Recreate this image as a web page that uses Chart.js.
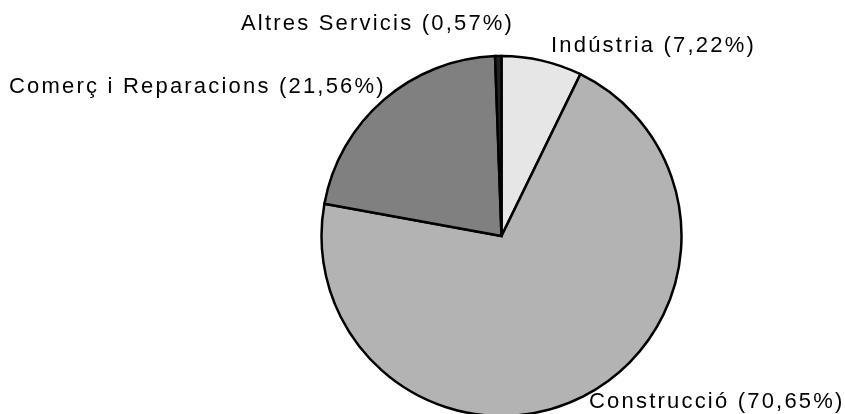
<!DOCTYPE html>
<html>
<head>
<meta charset="utf-8">
<script src="https://cdn.jsdelivr.net/npm/chart.js@4.4.1/dist/chart.umd.min.js"></script>
<style>
  html, body { margin: 0; padding: 0; background: #fff; }
  #wrap { width: 845px; height: 414px; position: relative; }
</style>
</head>
<body>
<div id="wrap"><canvas id="myChart" width="845" height="414"></canvas></div>
<script>
// sectors and their shares (%)
const sectors = ['Indústria', 'Construcció', 'Comerç i Reparacions', 'Altres Servicis'];
const shares = [7.22, 70.65, 21.56, 0.57];
const sliceColors = ['#e6e6e6', '#b3b3b3', '#808080', '#222222'];

// where each label sits (left x, baseline y)
const labelSpots = [
  { x: 551, y: 52 },
  { x: 589, y: 408 },
  { x: 9, y: 93 },
  { x: 241, y: 30 }
];

const labelPlugin = {
  id: 'sliceLabels',
  afterDraw(chart) {
    const ctx = chart.ctx;
    ctx.save();
    ctx.font = '22px "Liberation Sans", Arial, sans-serif';
    ctx.letterSpacing = '2.2px';
    ctx.fillStyle = '#000';
    ctx.textBaseline = 'alphabetic';
    ctx.textAlign = 'left';
    sectors.forEach((name, i) => {
      const s = labelSpots[i];
      const txt = name + ' (' + shares[i].toFixed(2).replace('.', ',') + '%)';
      ctx.fillText(txt, s.x, s.y);
    });
    ctx.restore();
  }
};

new Chart(document.getElementById('myChart'), {
  type: 'pie',
  data: {
    labels: sectors,
    datasets: [{
      data: shares,
      backgroundColor: sliceColors,
      borderColor: '#000',
      borderWidth: 2.5,
      borderJoinStyle: 'miter'
    }]
  },
  options: {
    responsive: false,
    animation: false,
    radius: 180,
    layout: { padding: { left: 321, right: 163, top: 58, bottom: 0 } },
    plugins: {
      legend: { display: false },
      tooltip: { enabled: false }
    }
  },
  plugins: [labelPlugin]
});
</script>
</body>
</html>
